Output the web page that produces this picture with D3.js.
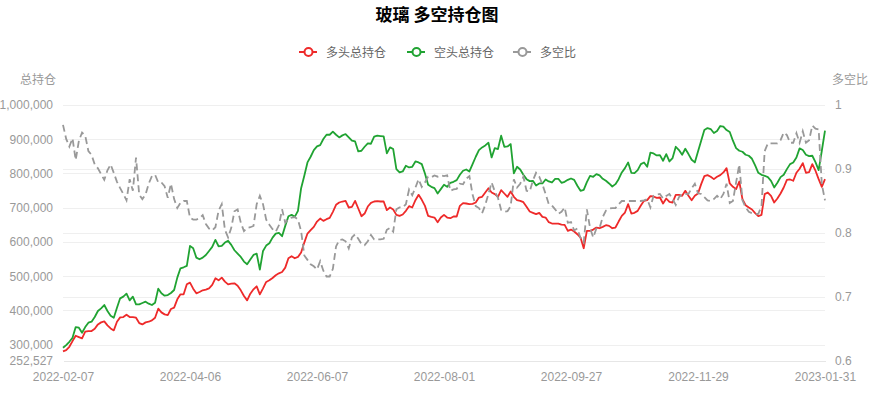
<!DOCTYPE html>
<html><head><meta charset="utf-8">
<script src="https://cdn.jsdelivr.net/npm/d3@7"></script>
<style>
html,body{margin:0;padding:0;background:#fff}
svg{display:block;font-family:"Noto Sans CJK SC","Noto Sans",sans-serif}
</style>
</head><body><div id="chart"></div>
<script>
// 多头总持仓
const longs = [
280586,284400,294100,310700,326300,322400,318500,338000,339900,339900,
346800,359400,365300,368200,356500,347700,341900,367200,379900,380900,
387700,380900,380900,378900,363300,359400,365300,367200,371100,378900,
405300,394500,388700,386700,404300,408200,432600,447200,447200,476400,
481300,463800,450100,454000,458900,460800,464700,474500,494000,488100,
495900,484200,476400,478400,479400,472500,458900,442300,429600,449100,
461800,470600,447200,464700,483300,488100,495000,502800,508600,512500,
525200,552500,558300,552500,556400,569100,598300,624600,634400,644100,
659700,668500,661700,666600,670500,688000,708500,715300,718200,720200,
700700,702600,720200,697800,675300,683100,703600,714300,718200,719200,
718200,718200,692900,700700,694800,679200,676300,680200,690900,704600,
700700,722100,737700,723100,705500,676300,673400,671400,657800,671400,
679200,671400,669500,674400,674400,705500,713400,712400,710400,711400,
715300,729900,731900,744500,757200,744500,739700,731900,751400,741600,
731900,747500,731900,722100,720200,716300,702600,689000,685100,681200,
685100,673400,671400,657800,653900,653900,653900,650900,650000,632400,
636300,630500,622700,612900,581700,632400,632400,636300,642200,640200,
644100,649000,647100,640200,642200,659700,676300,686100,710400,683100,
685100,690900,706500,720200,722100,733800,732900,728900,729900,712400,
727000,717200,715300,737700,737700,734800,749400,734800,722100,734800,
741600,768900,792300,795300,790400,783500,790400,795300,803100,815700,
770900,761100,754300,776700,725000,707500,700700,694800,684100,675300,
679200,739700,744500,734800,715300,727000,741600,759200,781600,782600,
778700,802100,813800,830400,802100,804000,827400,808100,783500,761100,
783500];
// 空头总持仓
const shorts = [
291200,299000,308700,320400,351600,349700,335100,351600,364300,367200,
380900,398400,406200,416000,398400,384800,378900,408200,435500,440400,
449100,429600,440400,418000,418000,421800,425700,419900,416000,422800,
463800,450100,443300,445200,451100,459900,495900,523200,526200,530100,
588600,581700,554400,549600,554400,562200,573900,585600,606100,587600,
588600,598300,603200,591500,575900,566100,556400,542700,534900,548600,
562200,566100,519300,573900,589500,596400,612900,624600,626600,616800,
647100,675300,679200,673400,690900,757200,793300,832300,848900,868400,
879100,883000,900600,913200,913200,922000,913200,905400,911300,915200,
905400,895700,893700,864500,866400,878100,887900,886900,907400,910300,
909300,908400,858600,876200,871300,812800,803100,806000,822600,817700,
819600,835200,832300,827400,800100,767000,761100,757200,741600,754300,
767000,761100,772800,775800,780600,796200,807900,811800,806000,827400,
848900,868400,876200,882000,889800,846900,874200,871300,910300,878100,
879100,885900,800100,819600,811800,796200,783500,777700,778700,765000,
770900,770900,782600,776700,773800,784500,784500,772800,775800,781600,
785500,781600,764100,749400,752400,774800,793300,790400,798200,794300,
784500,778700,770900,762100,768900,783500,803100,815700,832300,802100,
801100,809900,827400,832300,819600,860600,858600,852800,853800,837200,
856700,835200,845000,878100,868400,854700,872300,856700,840100,832300,
864500,895700,926900,932700,929800,918100,924000,938600,936600,926900,
921000,895700,874200,866400,863500,854700,851800,843000,823500,802100,
796200,793300,789400,778700,759200,772800,789400,796200,812800,827400,
832300,846900,873300,868400,854700,850800,851800,833300,809900,866400,
924900];
// 多空比
const ratios = [
0.969,0.947,0.935,0.948,0.914,0.944,0.957,0.952,0.928,0.922,
0.907,0.901,0.892,0.883,0.898,0.907,0.894,0.880,0.870,0.861,
0.851,0.884,0.866,0.918,0.860,0.853,0.860,0.877,0.889,0.891,
0.879,0.879,0.873,0.855,0.877,0.853,0.839,0.847,0.850,0.850,
0.824,0.821,0.821,0.823,0.828,0.814,0.807,0.804,0.809,0.835,
0.845,0.805,0.793,0.808,0.834,0.837,0.816,0.803,0.808,0.809,
0.811,0.845,0.858,0.845,0.821,0.813,0.806,0.802,0.812,0.837,
0.816,0.822,0.824,0.825,0.821,0.803,0.765,0.758,0.751,0.748,
0.743,0.756,0.741,0.732,0.732,0.744,0.779,0.789,0.790,0.787,
0.776,0.793,0.798,0.791,0.783,0.781,0.787,0.797,0.790,0.790,
0.790,0.791,0.805,0.808,0.802,0.837,0.840,0.840,0.845,0.868,
0.859,0.871,0.884,0.872,0.879,0.888,0.887,0.890,0.888,0.890,
0.889,0.890,0.866,0.868,0.869,0.877,0.876,0.885,0.889,0.860,
0.842,0.839,0.831,0.844,0.861,0.879,0.865,0.855,0.836,0.833,
0.834,0.842,0.884,0.871,0.877,0.888,0.866,0.865,0.882,0.894,
0.888,0.876,0.861,0.845,0.843,0.837,0.830,0.833,0.840,0.816,
0.817,0.804,0.807,0.792,0.785,0.837,0.808,0.793,0.807,0.808,
0.825,0.835,0.838,0.839,0.839,0.845,0.850,0.850,0.850,0.850,
0.850,0.850,0.850,0.851,0.853,0.840,0.858,0.860,0.861,0.854,
0.858,0.861,0.853,0.844,0.856,0.861,0.861,0.861,0.870,0.877,
0.862,0.861,0.856,0.851,0.850,0.853,0.858,0.853,0.861,0.877,
0.847,0.850,0.879,0.907,0.851,0.840,0.833,0.831,0.830,0.830,
0.842,0.928,0.940,0.940,0.940,0.940,0.945,0.957,0.953,0.941,
0.941,0.956,0.941,0.959,0.941,0.945,0.968,0.963,0.962,0.876,
0.851];
// x-axis tick labels (every 40th trading day)
const xTickLabels = ["2022-02-07","2022-04-06","2022-06-07","2022-08-01","2022-09-27","2022-11-29","2023-01-31"];
const xTickStep = 40;
const leftTicks = [252527,300000,400000,500000,600000,700000,800000,900000,1000000];
const rightTicks = [0.6,0.7,0.8,0.9,1];
const seriesNames = ["多头总持仓","空头总持仓","多空比"];
const titleText = "玻璃 多空持仓图";
const leftAxisName = "总持仓";
const rightAxisName = "多空比";

const W = 878, H = 396;
const M = {left:63, right:825, top:105, bottom:361};
const colors = ["#ee2a2a","#20a332","#999999"];

const svg = d3.select("#chart").append("svg").attr("width",W).attr("height",H);

const N = longs.length;
const x = d3.scaleLinear().domain([0,N-1]).range([M.left,M.right]);
const yL = d3.scaleLinear().domain([leftTicks[0], leftTicks[leftTicks.length-1]]).range([M.bottom,M.top]);
const yR = d3.scaleLinear().domain([rightTicks[0], rightTicks[rightTicks.length-1]]).range([M.bottom,M.top]);

// grid lines (both axes)
const gridL = svg.append("g").attr("transform",`translate(${M.left},0)`)
  .call(d3.axisLeft(yL).tickValues(leftTicks.slice(1)).tickSize(-(M.right-M.left)).tickFormat(""));
const gridR = svg.append("g").attr("transform",`translate(${M.left},0)`)
  .call(d3.axisLeft(yR).tickValues(rightTicks.slice(1)).tickSize(-(M.right-M.left)).tickFormat(""));
[gridL,gridR].forEach(g=>{ g.select(".domain").remove(); g.selectAll("line").attr("stroke","#efefef").attr("shape-rendering","crispEdges"); });

// left axis
const axL = svg.append("g").attr("transform",`translate(${M.left},0)`)
  .call(d3.axisLeft(yL).tickValues(leftTicks).tickSize(0).tickPadding(10).tickFormat(d3.format(",")));
// right axis
const axR = svg.append("g").attr("transform",`translate(${M.right},0)`)
  .call(d3.axisRight(yR).tickValues(rightTicks).tickSize(0).tickPadding(10).tickFormat(d=>String(+d.toFixed(1))));
// bottom axis
const xTicks = d3.range(0, N, xTickStep);
const axB = svg.append("g").attr("transform",`translate(0,${M.bottom})`)
  .call(d3.axisBottom(x).tickValues(xTicks).tickSize(0).tickPadding(11).tickFormat((d,i)=>xTickLabels[i]));
[axL,axR].forEach(g=>g.select(".domain").remove());
axB.select(".domain").attr("stroke","#e6e6e6").attr("shape-rendering","crispEdges");
[axL,axR,axB].forEach(g=>g.selectAll("text").attr("fill","#999").attr("font-size",12).attr("font-family",null));

// axis names
svg.append("text").attr("x",38).attr("y",84).attr("text-anchor","middle").attr("font-size",12).attr("fill","#999").text(leftAxisName);
svg.append("text").attr("x",850).attr("y",84).attr("text-anchor","middle").attr("font-size",12).attr("fill","#999").text(rightAxisName);

// lines
const lineL = d3.line().x((d,i)=>x(i)).y(d=>yL(d));
const lineR = d3.line().x((d,i)=>x(i)).y(d=>yR(d));
svg.append("path").datum(longs).attr("d",lineL).attr("fill","none").attr("stroke",colors[0]).attr("stroke-width",1.8).attr("stroke-linejoin","round");
svg.append("path").datum(shorts).attr("d",lineL).attr("fill","none").attr("stroke",colors[1]).attr("stroke-width",1.8).attr("stroke-linejoin","round");
svg.append("path").datum(ratios).attr("d",lineR).attr("fill","none").attr("stroke",colors[2]).attr("stroke-width",1.8).attr("stroke-dasharray","7,4");

// title
svg.append("text").attr("x",437).attr("y",21).attr("text-anchor","middle").attr("font-size",17).attr("font-weight","bold").attr("fill","#000").text(titleText);

// legend
const legX = [299, 407, 513];
const leg = svg.append("g");
seriesNames.forEach((name,i)=>{
  const g = leg.append("g").attr("transform",`translate(${legX[i]},52)`);
  g.append("line").attr("x1",0).attr("x2",18).attr("y1",0).attr("y2",0).attr("stroke",colors[i]).attr("stroke-width",2);
  g.append("circle").attr("cx",9.5).attr("cy",0).attr("r",4).attr("fill","#fff").attr("stroke",colors[i]).attr("stroke-width",2);
  g.append("text").attr("x",27).attr("y",4.5).attr("font-size",12).attr("fill","#666").text(name);
});
</script>
</body></html>
